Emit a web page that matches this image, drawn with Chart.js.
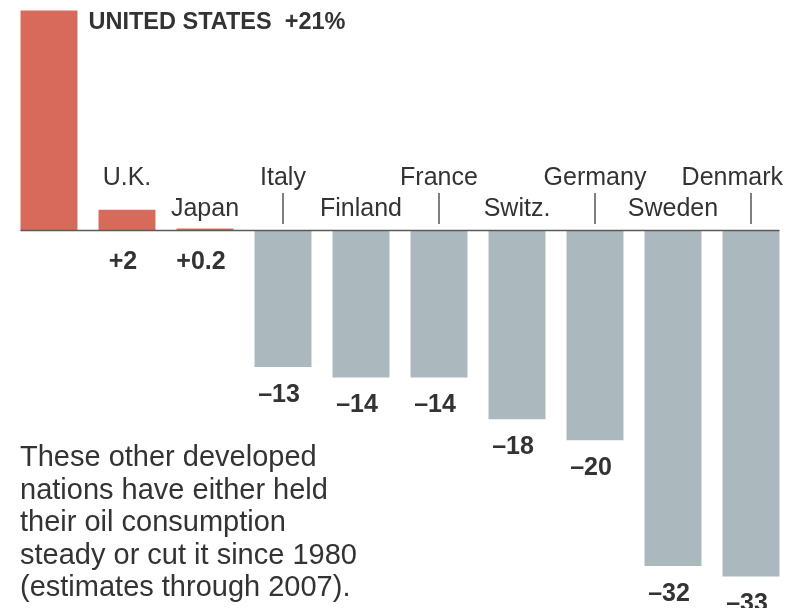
<!DOCTYPE html>
<html>
<head>
<meta charset="utf-8">
<script src="https://cdn.jsdelivr.net/npm/chart.js@4"></script>
<style>
  html, body { margin: 0; padding: 0; background: #fff; }
  #wrap { width: 795px; height: 608px; position: relative; }
</style>
</head>
<body>
<div id="wrap"><canvas id="oilChart" width="795" height="608"></canvas></div>
<script>
// data: change in oil consumption since 1980, percent
const countries = ['UNITED STATES', 'U.K.', 'Japan', 'Italy', 'Finland', 'France', 'Switz.', 'Germany', 'Sweden', 'Denmark'];
const changes = [21, 2, 0.2, -13, -14, -14, -18, -20, -32, -33];
const valueLabels = ['+21%', '+2', '+0.2', '\u201313', '\u201314', '\u201314', '\u201318', '\u201320', '\u201332', '\u201333'];
// which row the country name sits in (0 = US headline, 1 = upper, 2 = lower)
const labelRows = [0, 1, 2, 1, 2, 1, 2, 1, 2, 1];
const note = [
  'These other developed',
  'nations have either held',
  'their oil consumption',
  'steady or cut it since 1980',
  '(estimates through 2007).'
];

const RED = '#d86a5c';
const GRAY = '#abb9be';
const INK = '#333333';
const FONT = '"Liberation Sans", Arial, Helvetica, sans-serif';

const labelsPlugin = {
  id: 'labels',
  afterDatasetsDraw(chart) {
    const c = chart.ctx;
    const meta = chart.getDatasetMeta(0);
    const y = chart.scales.y;
    const zero = y.getPixelForValue(0);
    const first = meta.data[0], last = meta.data[meta.data.length - 1];

    c.save();
    // baseline
    c.strokeStyle = '#5a5a5a';
    c.lineWidth = 1.5;
    c.beginPath();
    c.moveTo(first.x - first.width / 2, zero);
    c.lineTo(last.x + last.width / 2, zero);
    c.stroke();

    c.fillStyle = INK;
    meta.data.forEach((bar, i) => {
      const row = labelRows[i];
      if (row === 0) {
        // headline next to the US bar
        c.font = 'bold 23.5px ' + FONT;
        c.textAlign = 'left';
        c.textBaseline = 'alphabetic';
        c.fillText(countries[i] + '  ' + valueLabels[i], bar.x + bar.width / 2 + 11, 29);
        return;
      }
      // country name
      c.font = '25px ' + FONT;
      c.textAlign = 'center';
      c.textBaseline = 'alphabetic';
      const w = c.measureText(countries[i]).width;
      let cx = bar.x;
      if (cx + w / 2 > chart.width - 12) cx = chart.width - 12 - w / 2;
      c.fillText(countries[i], cx, row === 1 ? 185 : 216);

      // tick from upper-row names down to negative bars
      if (row === 1 && changes[i] < 0) {
        c.strokeStyle = '#555';
        c.lineWidth = 1.5;
        c.beginPath();
        c.moveTo(bar.x, 193);
        c.lineTo(bar.x, 224);
        c.stroke();
      }

      // value under the bar
      c.font = 'bold 25px ' + FONT;
      c.textBaseline = 'middle';
      const vy = changes[i] >= 0 ? zero + 31 : y.getPixelForValue(changes[i]) + 28;
      c.fillText(valueLabels[i], bar.x - 4, vy);
    });

    // note
    c.font = '29px ' + FONT;
    c.textAlign = 'left';
    c.textBaseline = 'alphabetic';
    note.forEach((line, k) => c.fillText(line, 20, 466 + k * 32.5));
    c.restore();
  }
};

const ctx = document.getElementById('oilChart');
new Chart(ctx, {
  type: 'bar',
  data: {
    labels: countries,
    datasets: [{
      data: changes,
      backgroundColor: changes.map(v => v >= 0 ? RED : GRAY),
      borderWidth: 0,
      barPercentage: 0.73,
      categoryPercentage: 1
    }]
  },
  options: {
    responsive: false,
    animation: false,
    layout: { padding: { left: 10, right: 5, top: 0, bottom: 0 } },
    plugins: { legend: { display: false }, tooltip: { enabled: false } },
    scales: {
      x: { display: false },
      y: { display: false, min: -36, max: 22 }
    }
  },
  plugins: [labelsPlugin]
});
</script>
</body>
</html>
